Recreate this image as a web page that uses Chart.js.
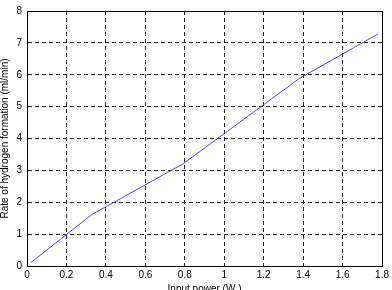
<!DOCTYPE html>
<html>
<head>
<meta charset="utf-8">
<script src="https://cdn.jsdelivr.net/npm/chart.js@4"></script>
<style>
  html, body { margin: 0; padding: 0; background: #fff; overflow: hidden; }
  #wrap { width: 392px; height: 290px; overflow: hidden; }
</style>
</head>
<body>
<div id="wrap"><canvas id="h2Chart" width="392" height="296"></canvas></div>
<script>
// Input power (W) vs rate of hydrogen formation (ml/min)
const powerW = [0.02, 0.33, 0.79, 1.38, 1.78];
const rateMl = [0.11, 1.62, 3.2, 5.88, 7.28];
const xTicks = [0, 0.2, 0.4, 0.6, 0.8, 1, 1.2, 1.4, 1.6, 1.8];
const yTicks = [0, 1, 2, 3, 4, 5, 6, 7, 8];

const font = { family: 'Liberation Sans, Arial, Helvetica, sans-serif', size: 10 };

// solid box round the plot, like matlab axes
const boxPlugin = {
  id: 'box',
  afterDraw(chart) {
    const { ctx, chartArea: a } = chart;
    ctx.save();
    ctx.strokeStyle = '#000';
    ctx.lineWidth = 1;
    ctx.setLineDash([]);
    ctx.strokeRect(Math.round(a.left) + 0.5, Math.round(a.top) + 0.5,
      Math.round(a.right - a.left), Math.round(a.bottom - a.top));
    ctx.restore();
  }
};

const grid = { color: '#222', lineWidth: 1, drawTicks: false };
const border = { display: true, color: '#000', dash: [4, 3] };

new Chart(document.getElementById('h2Chart').getContext('2d'), {
  type: 'line',
  data: {
    datasets: [{
      data: powerW.map((x, i) => ({ x: x, y: rateMl[i] })),
      borderColor: '#4c4ce0',
      borderWidth: 1,
      pointRadius: 0,
      tension: 0,
      fill: false
    }]
  },
  options: {
    responsive: false,
    animation: false,
    layout: { padding: { top: 5, right: 9, left: 0, bottom: 0 } },
    plugins: { legend: { display: false }, tooltip: { enabled: false } },
    scales: {
      x: {
        type: 'linear', min: 0, max: 1.8,
        afterBuildTicks: s => { s.ticks = xTicks.map(v => ({ value: v })); },
        afterFit: s => { s.height = 30; },
        grid: grid,
        border: border,
        ticks: { color: '#000', font: font, padding: 3, maxRotation: 0, callback: v => String(v) },
        title: { display: true, text: 'Input power (W )', color: '#000', font: font, padding: { top: 0, bottom: 1 } }
      },
      y: {
        type: 'linear', min: 0, max: 8,
        afterBuildTicks: s => { s.ticks = yTicks.map(v => ({ value: v })); },
        afterFit: s => { s.width = 27; },
        grid: grid,
        border: border,
        ticks: { color: '#000', font: font, padding: 5 },
        title: { display: true, text: 'Rate of hydrogen formation (ml/min)', color: '#000', font: { family: font.family, size: 10, lineHeight: 1 }, padding: { top: 0, bottom: 0 } }
      }
    }
  },
  plugins: [boxPlugin]
});
</script>
</body>
</html>
